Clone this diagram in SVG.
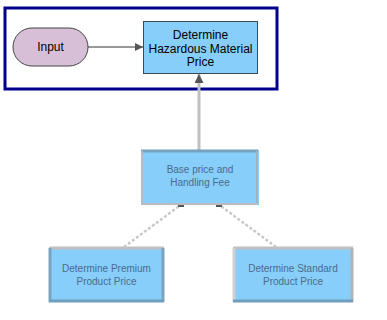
<svg xmlns="http://www.w3.org/2000/svg" width="387" height="320" viewBox="0 0 387 320">
<style>
text{font-family:"Liberation Sans",Arial,sans-serif;font-size:11px;text-anchor:middle}
.sharp{fill:#000}
.big{font-size:12px}
.blur{fill:#4a6c8a;font-size:10px}
.proc{fill:#87CEFA;stroke:#3a4a55;stroke-width:1}
</style>
<defs>
<marker id="ah" viewBox="0 0 10 10" refX="10" refY="5" markerWidth="10" markerHeight="8" orient="auto" markerUnits="userSpaceOnUse">
<path d="M0,0 L10,5 L0,10 z" fill="#555"/>
</marker>
<marker id="ah2" viewBox="0 0 10 10" refX="10" refY="5" markerWidth="11" markerHeight="9" orient="auto" markerUnits="userSpaceOnUse">
<path d="M0,0 L10,5 L0,10 z" fill="#555"/>
</marker>
</defs>
<rect x="0" y="0" width="387" height="320" fill="#fff"/>
<rect id="frame" x="5" y="8" width="272" height="81" fill="none" stroke="#00008B" stroke-width="3"/>
<g id="connectors">
<line x1="88" y1="47" x2="143" y2="47" stroke="#333" stroke-width="1" marker-end="url(#ah)"/>
<line x1="199" y1="150" x2="199" y2="74" stroke="#c0c0c0" stroke-width="3" marker-end="url(#ah2)"/>
<line x1="124" y1="247" x2="182" y2="204" stroke="#c8c8c8" stroke-width="2.5" stroke-dasharray="3,2"/>
<rect x="178" y="202" width="6" height="5" fill="#555"/>
<line x1="276" y1="247" x2="218" y2="204" stroke="#c8c8c8" stroke-width="2.5" stroke-dasharray="3,2"/>
<rect x="216" y="202" width="6" height="5" fill="#555"/>
</g>
<g id="input">
<rect x="13" y="28" width="75" height="38" rx="19" ry="19" fill="#D8BFD8" stroke="#444" stroke-width="1"/>
<text class="sharp big" x="50.5" y="51">Input</text>
</g>
<g id="determine-hazardous">
<rect class="proc" x="143.5" y="21.5" width="114" height="52"/>
<text class="sharp big" x="200.5" y="39">Determine</text>
<text class="sharp big" x="200.5" y="53">Hazardous Material</text>
<text class="sharp big" x="200.5" y="66">Price</text>
</g>
<g id="base-price">
<rect x="141" y="150" width="118" height="55" fill="#87CEFA"/>
<path d="M141,151 H258" stroke="#74a2bf" stroke-width="3" fill="none"/>
<path d="M142,151 V205" stroke="#b5bcc2" stroke-width="2" fill="none"/>
<path d="M257,151 V205" stroke="#a7b2bb" stroke-width="2" fill="none"/>
<path d="M141,204 H258" stroke="#b8bcc0" stroke-width="2" fill="none"/>
<text class="blur" x="200" y="173">Base price and</text>
<text class="blur" x="200" y="186">Handling Fee</text>
</g>
<g id="premium">
<rect x="49" y="247" width="115" height="55" fill="#87CEFA"/>
<path d="M49,248 H164" stroke="#c0c0c0" stroke-width="3" fill="none"/>
<path d="M50,248 V302" stroke="#7aa4c0" stroke-width="3" fill="none"/>
<path d="M163,248 V302" stroke="#7aa4c0" stroke-width="3" fill="none"/>
<path d="M49,301 H164" stroke="#6f9dbb" stroke-width="3" fill="none"/>
<text class="blur" x="106.5" y="272">Determine Premium</text>
<text class="blur" x="106.5" y="285">Product Price</text>
</g>
<g id="standard">
<rect x="233" y="247" width="120" height="55" fill="#87CEFA"/>
<path d="M233,248 H353" stroke="#c0c0c0" stroke-width="3" fill="none"/>
<path d="M234,248 V302" stroke="#d0d0d0" stroke-width="3" fill="none"/>
<path d="M352,248 V302" stroke="#b0b4b8" stroke-width="3" fill="none"/>
<path d="M233,301 H353" stroke="#6f9dbb" stroke-width="3" fill="none"/>
<text class="blur" x="293" y="272">Determine Standard</text>
<text class="blur" x="293" y="285">Product Price</text>
</g>
</svg>
